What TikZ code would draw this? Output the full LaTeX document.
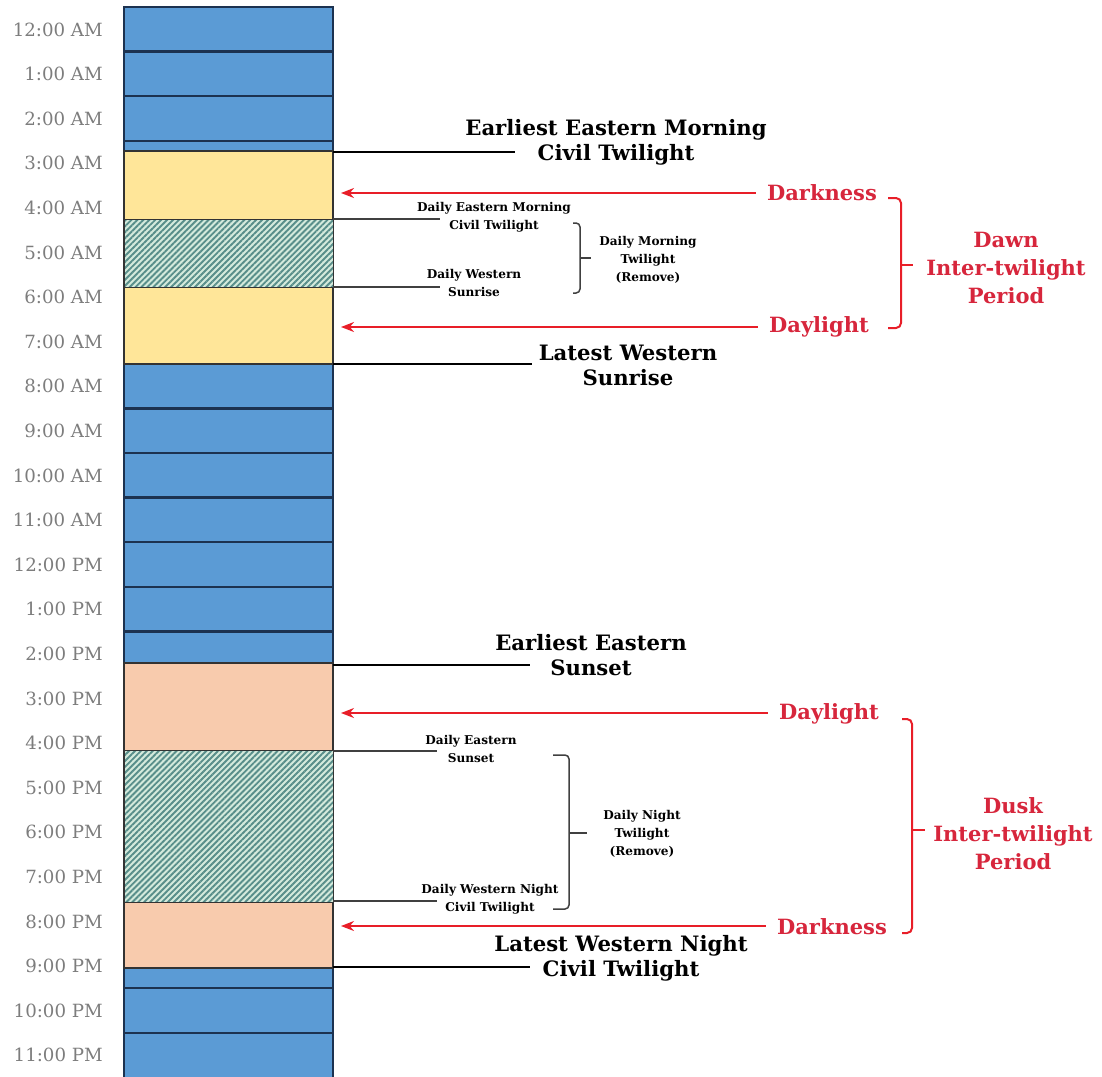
\documentclass[tikz,border=0pt]{standalone}
\usepackage{fontspec}
\setmainfont{DejaVu Serif}
\usetikzlibrary{arrows.meta,patterns.meta}
\definecolor{blueF}{RGB}{91,155,213}
\definecolor{blueL}{RGB}{28,50,80}
\definecolor{yel}{RGB}{255,230,153}
\definecolor{peach}{RGB}{248,203,173}
\definecolor{hatchbg}{RGB}{212,234,220}
\definecolor{hatchln}{RGB}{88,142,138}
\definecolor{redc}{RGB}{232,30,40}
\definecolor{redt}{RGB}{215,38,60}
\definecolor{timec}{RGB}{125,125,125}
\begin{document}
\begin{tikzpicture}[x=1pt,y=-1pt,
  timelbl/.style={anchor=east,text=timec,font=\fontsize{18.2}{20}\selectfont,inner sep=0pt},
  biglbl/.style={align=center,font=\bfseries\fontsize{21.2}{25}\selectfont,inner sep=0pt},
  smalllbl/.style={align=center,font=\bfseries\fontsize{12.1}{18}\selectfont,inner sep=0pt},
  redlbl/.style={text=redt,align=center,font=\bfseries\fontsize{21}{28}\selectfont,inner sep=0pt},
  bigline/.style={line width=2.6pt,black},
  smallline/.style={line width=1.3pt,black!75},
  redarrow/.style={line width=2pt,redc,-{Stealth[length=13pt,width=10pt]}},
  redbrace/.style={line width=2pt,redc,rounded corners=5pt},
  graybrace/.style={line width=1.5pt,black!75,rounded corners=4pt},
  boxedge/.style={draw=black!80,line width=1.3pt},
  hatchbox/.style={pattern={Lines[angle=45,distance=4.2pt,line width=1.9pt]},pattern color=hatchln},
]
\useasboundingbox (0,0) rectangle (1102,1076);
\clip (0,0) rectangle (1102,1076);
% column
\fill[blueF] (124,7) rectangle (333,1077.4);
\foreach \k in {1,...,23} \draw[blueL,line width=2.4pt] (124,{7+44.6*\k}) -- (333,{7+44.6*\k});
\draw[blueL,line width=1.5pt] (124,7) rectangle (333,1077.4);
% dawn
\filldraw[fill=yel,boxedge] (124,151) rectangle (333,364);
\fill[hatchbg] (124,219) rectangle (333,287);
\fill[hatchbox] (124,219) rectangle (333,287);
\draw[boxedge,line width=1pt] (124,219) rectangle (333,287);
% dusk
\filldraw[fill=peach,boxedge] (124,663) rectangle (333,968);
\fill[hatchbg] (124,750) rectangle (333,902);
\fill[hatchbox] (124,750) rectangle (333,902);
\draw[boxedge,line width=1pt] (124,750) rectangle (333,902);
% time labels
\foreach \t [count=\i from 0] in {12:00 AM,1:00 AM,2:00 AM,3:00 AM,4:00 AM,5:00 AM,6:00 AM,7:00 AM,8:00 AM,9:00 AM,10:00 AM,11:00 AM,12:00 PM,1:00 PM,2:00 PM,3:00 PM,4:00 PM,5:00 PM,6:00 PM,7:00 PM,8:00 PM,9:00 PM,10:00 PM,11:00 PM}
  \node[timelbl] (t\i) at (103,{29.5+44.6*\i}) {\t};
% big black labels
\node[biglbl] (eem) at (616,142) {Earliest Eastern Morning\\Civil Twilight};
\node[biglbl] (lws) at (628,365) {Latest Western\\Sunrise};
\node[biglbl] (ees) at (591,655) {Earliest Eastern\\Sunset};
\node[biglbl] (lwn) at (621,958) {Latest Western Night\\Civil Twilight};
\coordinate (eemA) at (333,152); \coordinate (eemB) at (515,152);
\coordinate (lwsA) at (333,364); \coordinate (lwsB) at (532,364);
\coordinate (eesA) at (333,665); \coordinate (eesB) at (530,665);
\coordinate (lwnA) at (333,967); \coordinate (lwnB) at (530,967);
\draw[bigline] (eemA) -- (eemB);
\draw[bigline] (lwsA) -- (lwsB);
\draw[bigline] (eesA) -- (eesB);
\draw[bigline] (lwnA) -- (lwnB);
% small labels
\node[smalllbl] (dem) at (494,217.5) {Daily Eastern Morning\\Civil Twilight};
\node[smalllbl] (dws) at (474,282.5) {Daily Western\\Sunrise};
\node[smalllbl] (dmt) at (648,260) {Daily Morning\\Twilight\\(Remove)};
\node[smalllbl] (des) at (471,748.5) {Daily Eastern\\Sunset};
\node[smalllbl] (dwn) at (490,899.5) {Daily Western Night\\Civil Twilight};
\node[smalllbl] (dnt) at (642,834) {Daily Night\\Twilight\\(Remove)};
\coordinate (demA) at (333,219); \coordinate (demB) at (440,219);
\coordinate (dwsA) at (333,287); \coordinate (dwsB) at (440,287);
\coordinate (desA) at (333,751); \coordinate (desB) at (437,751);
\coordinate (dwnA) at (333,901); \coordinate (dwnB) at (437,901);
\draw[smallline] (demA) -- (demB);
\draw[smallline] (dwsA) -- (dwsB);
\draw[smallline] (desA) -- (desB);
\draw[smallline] (dwnA) -- (dwnB);
% gray braces
\draw[graybrace] (573,223) -- (580,223) -- (580,293) -- (573,293);
\draw[graybrace] (580,258) -- (591,258);
\draw[graybrace] (553,755) -- (569,755) -- (569,909) -- (553,909);
\draw[graybrace] (569,833) -- (587,833);
% red labels and arrows
\node[redlbl] (dark1) at (822,193) {Darkness};
\node[redlbl] (day1) at (819,327) {Daylight};
\node[redlbl] (dawn) at (1006,268) {Dawn\\Inter-twilight\\Period};
\node[redlbl] (day2) at (829,714) {Daylight};
\node[redlbl] (dark2) at (832,927) {Darkness};
\node[redlbl] (dusk) at (1013,834) {Dusk\\Inter-twilight\\Period};
\coordinate (a1) at (341,193);
\coordinate (a2) at (341,327);
\coordinate (a3) at (341,713);
\coordinate (a4) at (341,926);
\draw[redarrow] ([xshift=-11pt]dark1.west) -- (a1);
\draw[redarrow] ([xshift=-11pt]day1.west |- a2) -- (a2);
\draw[redarrow] ([xshift=-11pt]day2.west |- a3) -- (a3);
\draw[redarrow] ([xshift=-11pt]dark2.west |- a4) -- (a4);
\draw[redbrace] (888,198) -- (901,198) -- (901,328) -- (888,328);
\draw[redbrace] (901,265) -- (913,265);
\draw[redbrace] (902,719) -- (912,719) -- (912,933) -- (902,933);
\draw[redbrace] (912,830) -- (925,830);
\end{tikzpicture}
\end{document}
